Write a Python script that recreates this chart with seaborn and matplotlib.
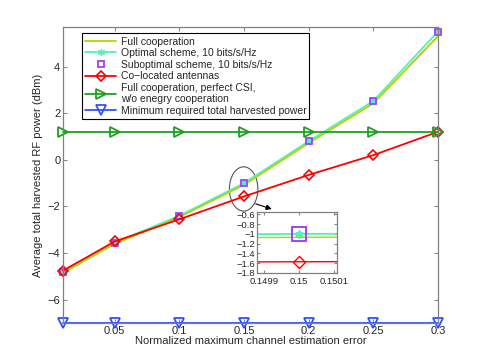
import matplotlib
matplotlib.use("Agg")
import matplotlib.pyplot as plt
import seaborn as sns
import pandas as pd
import numpy as np
from matplotlib.patches import Ellipse
from matplotlib.lines import Line2D

x = [0.01, 0.05, 0.1, 0.15, 0.2, 0.25, 0.3]
full_coop = [-4.85, -3.6, -2.45, -1.07, 0.72, 2.42, 5.3]
optimal = [-4.8, -3.55, -2.4, -1.0, 0.8, 2.52, 5.5]
suboptimal = [-4.8, -3.55, -2.4, -1.0, 0.8, 2.52, 5.5]
colocated = [-4.75, -3.5, -2.55, -1.57, -0.65, 0.2, 1.2]
perfect_csi = [1.2, 1.2, 1.2, 1.2, 1.2, 1.2, 1.2]
min_required = [-7, -7, -7, -7, -7, -7, -7]

labels = ["Full cooperation", "Optimal scheme, 10 bits/s/Hz", "Suboptimal scheme, 10 bits/s/Hz",
          "Co\u2212located antennas", "Full cooperation, perfect CSI,\nw/o enegry cooperation",
          "Minimum required total harvested power"]

sns.set_style("ticks")
plt.rcParams['font.family'] = ['Liberation Sans', 'DejaVu Sans']
plt.rcParams['font.size'] = 7.5

fig = plt.figure(figsize=(4.85, 3.63), dpi=100)
ax = fig.add_axes([0.13, 0.11, 0.773, 0.816])

c_full = "#b8d400"
c_opt = "#50f0c0"
c_sub = "#a040ff"
c_red = "#ff0000"
c_green = "#20a020"
c_blue = "#3050ff"

def draw(a, y, label, color, marker, ms, lw=1.3, ls='-', mfc='none', mec=None, mew=1.2, clip=False):
    df = pd.DataFrame({"x": x, "y": y})
    sns.lineplot(data=df, x="x", y="y", ax=a, color=color, lw=lw, linestyle=ls,
                 marker=marker, markersize=ms, markerfacecolor=mfc,
                 markeredgecolor=mec if mec else color, markeredgewidth=mew,
                 label=label, clip_on=clip, legend=False)

draw(ax, full_coop, labels[0], c_full, None, 0)
draw(ax, optimal, labels[1], c_opt, (6, 2, 0), 5, mfc=c_opt)
draw(ax, full_coop, labels[0], c_full, None, 0, lw=1.0)
draw(ax, suboptimal, labels[2], c_sub, 's', 5, ls='none', mfc=c_opt, mew=1.3)
draw(ax, colocated, labels[3], c_red, 'D', 5, mew=1.2)
draw(ax, perfect_csi, labels[4], c_green, '>', 6.5, mew=1.3)
draw(ax, min_required, labels[5], c_blue, 'v', 6.5, mew=1.3)

ax.set_xlim(0.01, 0.3)
ax.set_ylim(-7, 5.7)
ax.set_xticks([0.05, 0.1, 0.15, 0.2, 0.25, 0.3])
ax.set_xticklabels(["0.05", "0.1", "0.15", "0.2", "0.25", "0.3"])
ax.set_yticks([-6, -4, -2, 0, 2, 4])
ax.set_yticklabels(["\u22126", "\u22124", "\u22122", "0", "2", "4"])
ax.tick_params(direction='in', top=True, right=True, length=3, color='#888888', labelsize=8, pad=2)
for s in ax.spines.values():
    s.set_color('#808080')
    s.set_linewidth(0.9)
ax.set_xlabel("Normalized maximum channel estimation error", fontsize=8, labelpad=0)
ax.set_ylabel("Average total harvested RF power (dBm)", fontsize=8, labelpad=3)

handles = [
    Line2D([], [], color=c_full, lw=1.3),
    Line2D([], [], color=c_opt, lw=1.3, marker=(6, 2, 0), ms=5, mfc=c_opt, mec=c_opt),
    Line2D([], [], color=c_sub, ls='none', marker='s', ms=5, mfc='none', mew=1.3),
    Line2D([], [], color=c_red, lw=1.3, marker='D', ms=5, mfc='none', mew=1.2),
    Line2D([], [], color=c_green, lw=1.3, marker='>', ms=6.5, mfc='none', mew=1.3),
    Line2D([], [], color=c_blue, lw=1.3, marker='v', ms=6.5, mfc='none', mew=1.3),
]
leg = ax.legend(handles, labels, loc='upper left', bbox_to_anchor=(0.045, 0.985), fontsize=7.5,
                frameon=True, fancybox=False, edgecolor='black', framealpha=1,
                handlelength=3.0, handletextpad=0.4, borderpad=0.3, labelspacing=0.15,
                borderaxespad=0.2)
leg.get_frame().set_linewidth(0.8)

# ellipse highlighting the zoomed region
ell = Ellipse((0.1497, -1.25), 0.022, 1.9, fill=False, edgecolor='#555555', lw=0.8)
ax.add_patch(ell)
ax.annotate("", xy=(0.1735, -2.15), xytext=(0.157, -1.85),
            arrowprops=dict(arrowstyle='-|>', color='black', lw=0.8, mutation_scale=8))

# inset
ins = fig.add_axes([0.530, 0.248, 0.165, 0.168])
ins.set_facecolor('white')
draw(ins, optimal, labels[1], c_opt, (6, 2, 0), 6, mfc=c_opt, clip=True)
draw(ins, full_coop, labels[0], c_full, None, 0, lw=1.0, clip=True)
draw(ins, suboptimal, labels[2], c_sub, 's', 10, ls='none', mew=1.4, clip=True)
draw(ins, colocated, labels[3], c_red, 'D', 6.5, lw=1.0, mew=1.0, clip=True)
ins.set_xlim(0.14988, 0.150108)
ins.set_ylim(-1.8, -0.55)
ins.set_xticks([0.1499, 0.15, 0.1501])
ins.set_xticklabels(["0.1499", "0.15", "0.1501"])
ins.set_yticks([-1.8, -1.6, -1.4, -1.2, -1.0, -0.8, -0.6])
ins.set_yticklabels(["\u22121.8", "\u22121.6", "\u22121.4", "\u22121.2", "\u22121", "\u22120.8", "\u22120.6"])
ins.tick_params(direction='in', top=True, right=True, length=2, color='#888888', labelsize=6.8, pad=1)
ins.tick_params(axis='x', pad=3)
ins.tick_params(axis='y', pad=1.5)
ins.set_xlabel("")
ins.set_ylabel("")
for s in ins.spines.values():
    s.set_color('#808080')
    s.set_linewidth(0.9)

fig.savefig("out.png", dpi=100)
